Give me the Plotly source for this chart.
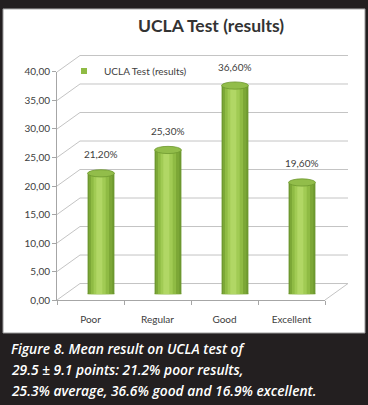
import plotly.graph_objects as go

# ---- data ----
categories = ["Poor", "Regular", "Good", "Excellent"]
values = [21.2, 25.3, 36.6, 19.6]
series_name = "UCLA Test (results)"
y_ticks = [0, 5, 10, 15, 20, 25, 30, 35, 40]
title_text = "UCLA Test (results)"
caption_lines = [
    "Figure 8. Mean result on UCLA test of",
    "29.5 ± 9.1 points: 21.2% poor results,",
    "25.3% average, 36.6% good and 16.9% excellent.",
]

W, H = 368, 405
YMAX = 40


def fx(px):
    return px / W


def fy(py):
    return 1 - py / H


# pixel geometry of the pseudo-3D frame
front_x0, front_x1 = 57, 325
front_y0, front_y40 = 303, 68
back_x0, back_x1 = 80, 348
back_y0, back_y40 = 286, 51
bar_x0, bar_x1 = 67.5, 335.5
bar_y0, bar_y40 = 297, 62


def back_y(v):
    return back_y0 + (back_y40 - back_y0) * v / YMAX


def front_y(v):
    return front_y0 + (front_y40 - front_y0) * v / YMAX


fig = go.Figure()

# cylinder shading built from overlaid bars
stripes = [
    (0.40, -0.20, "#6d982f"),
    (0.35, -0.18, "#7ca737"),
    (0.27, -0.15, "#8fbb44"),
    (0.18, -0.11, "#a1cb54"),
    (0.09, -0.07, "#b1d765"),
]
for w, off, col in stripes:
    fig.add_trace(go.Bar(
        x=categories, y=values, width=w, offset=off,
        marker=dict(color=col, line=dict(width=0)),
        showlegend=False, hoverinfo="skip", xaxis="x", yaxis="y",
    ))

# legend entry
fig.add_trace(go.Scatter(
    x=[None], y=[None], mode="markers", name=series_name,
    marker=dict(symbol="square", size=6, color="#8fbb44"),
    xaxis="x", yaxis="y", showlegend=True,
))

# invisible trace to carry the front category axis
fig.add_trace(go.Scatter(
    x=categories, y=values, mode="markers", marker=dict(opacity=0),
    showlegend=False, hoverinfo="skip", xaxis="x2", yaxis="y2",
))

shapes = []
# white chart panel
shapes.append(dict(type="rect", xref="paper", yref="paper",
                   x0=fx(3), x1=fx(365), y0=fy(3), y1=fy(337),
                   fillcolor="white", line=dict(color="#9a9a9a", width=1), layer="below"))
# back wall gridlines + diagonals
for v in y_ticks:
    shapes.append(dict(type="line", xref="paper", yref="paper",
                       x0=fx(back_x0), x1=fx(back_x1), y0=fy(back_y(v)), y1=fy(back_y(v)),
                       line=dict(color="#c4c4c4", width=1), layer="below"))
    shapes.append(dict(type="line", xref="paper", yref="paper",
                       x0=fx(front_x0), x1=fx(back_x0), y0=fy(front_y(v)), y1=fy(back_y(v)),
                       line=dict(color="#c4c4c4", width=1), layer="below"))
# floor right diagonal
shapes.append(dict(type="line", xref="paper", yref="paper",
                   x0=fx(front_x1), x1=fx(back_x1), y0=fy(front_y(0)), y1=fy(back_y(0)),
                   line=dict(color="#c4c4c4", width=1), layer="below"))
# cylinder bottoms and tops
for i, v in enumerate(values):
    shapes.append(dict(type="circle", xref="x", yref="y", ysizemode="pixel", yanchor=0,
                       x0=i - 0.20, x1=i + 0.20, y0=-4, y1=4,
                       fillcolor="#7ca737", line=dict(width=0), layer="below"))
    shapes.append(dict(type="circle", xref="x", yref="y", ysizemode="pixel", yanchor=v,
                       x0=i - 0.20, x1=i + 0.20, y0=-3.6, y1=3.6,
                       fillcolor="#92bd4a", line=dict(color="#6d982f", width=0.8), layer="above"))
# caption box
shapes.append(dict(type="rect", xref="paper", yref="paper",
                   x0=fx(2), x1=fx(366), y0=fy(338), y1=fy(403),
                   fillcolor="#231f20", line=dict(width=0), layer="below"))

annotations = []
# data labels
for c, v in zip(categories, values):
    annotations.append(dict(x=c, y=v, xref="x", yref="y", yshift=19,
                            xanchor="center", yanchor="middle",
                            text=f"{v:.2f}".replace(".", ",") + "%", showarrow=False,
                            font=dict(family="Lato", size=10, color="#404040")))
# title
annotations.append(dict(x=fx(211), y=fy(20), xref="paper", yref="paper",
                        xanchor="center", yanchor="middle",
                        text=f"<b>{title_text}</b>", showarrow=False,
                        font=dict(family="Lato", size=17.5, color="#333333")))
# caption (one annotation per line to match the wide line spacing)
for line, ypx in zip(caption_lines, [353, 375, 396]):
    annotations.append(dict(x=fx(9), y=fy(ypx), xref="paper", yref="paper",
                            xanchor="left", yanchor="middle", align="left",
                            text=line, showarrow=False,
                            font=dict(family="Open Sans", size=13.8, color="white",
                                      style="italic", weight=600)))

fig.update_layout(
    width=W, height=H, autosize=False,
    margin=dict(l=0, r=0, t=0, b=0),
    paper_bgcolor="#231f20", plot_bgcolor="rgba(0,0,0,0)",
    separators=",.",
    barmode="overlay",
    shapes=shapes, annotations=annotations,
    showlegend=True,
    legend=dict(x=fx(64), y=fy(67), xanchor="left", yanchor="middle",
                bgcolor="rgba(0,0,0,0)", font=dict(family="Lato", size=10, color="#404040")),
    xaxis=dict(domain=[fx(bar_x0), fx(bar_x1)], type="category", categoryarray=categories,
               range=[-0.5, 3.5], visible=False, anchor="y", fixedrange=True),
    yaxis=dict(domain=[fy(bar_y0), fy(bar_y40)], range=[0, YMAX], visible=False,
               anchor="x", fixedrange=True),
    xaxis2=dict(domain=[fx(front_x0), fx(front_x1)], type="category",
                categoryarray=categories, range=[-0.5, 3.5], anchor="y2",
                showline=True, linecolor="#a6a6a6", linewidth=1, ticks="",
                showgrid=False, zeroline=False, ticklabelstandoff=10, fixedrange=True,
                tickfont=dict(family="Lato", size=10, color="#404040"),
                minor=dict(tickvals=[-0.5, 0.5, 1.5, 2.5, 3.5], ticks="outside",
                           ticklen=4, tickcolor="#a6a6a6", showgrid=False)),
    yaxis2=dict(domain=[fy(front_y0), fy(front_y40)], range=[0, YMAX], anchor="x2",
                tickvals=y_ticks, tickformat=".2f", ticksuffix="%", fixedrange=True,
                showline=True, linecolor="#a6a6a6", linewidth=1,
                ticks="outside", ticklen=4, tickcolor="#a6a6a6",
                showgrid=False, zeroline=False,
                tickfont=dict(family="Lato", size=10, color="#404040")),
)

fig.write_html("out.html", config={"displayModeBar": False},
               post_script="document.body.style.margin='0';")
